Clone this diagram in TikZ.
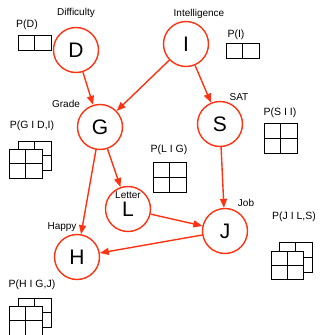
\documentclass[tikz,border=0pt]{standalone}
\usepackage{fontspec}
\setmainfont{Liberation Sans}
\usetikzlibrary{arrows.meta}
\definecolor{nred}{HTML}{FF3311}
\newcommand\cpdgrid[4]{%
  \draw[tab,fill=white] (#1,#2) rectangle (#3,#4);
  \draw[tab] ({(#1+#3)/2},#2) -- ({(#1+#3)/2},#4) (#1,{(#2+#4)/2}) -- (#3,{(#2+#4)/2});}
\begin{document}
\begin{tikzpicture}[x=1pt,y=-1pt,
  var/.style={circle,draw=nred,line width=1.4pt,minimum size=45pt,inner sep=0pt,font=\fontsize{21}{21}\selectfont},
  lbl/.style={font=\fontsize{10}{12}\selectfont,inner sep=0pt},
  plbl/.style={font=\fontsize{10.5}{12}\selectfont,inner sep=0pt},
  edge/.style={draw=nred,line width=1.4pt,-{Triangle[length=9pt,width=7pt]}},
  tab/.style={draw=black,line width=0.8pt}]
\useasboundingbox (0,0) rectangle (320,335);

% variables
\node[var] (D) at (76,50) {D};
\node[var] (I) at (186,44) {I};
\node[var] (G) at (100,127) {G};
\node[var] (S) at (220,124) {S};
\node[var] (L) at (128,209) {L};
\node[var] (J) at (225,231) {J};
\node[var] (H) at (77,257) {H};

% edges
\draw[edge] (D) -- (G);
\draw[edge] (I) -- (G);
\draw[edge] (I) -- (S);
\draw[edge] (G) -- (L);
\draw[edge] (G) -- (H);
\draw[edge] (L) -- (J);
\draw[edge] (S) -- (J);
\draw[edge] (J) -- (H);

% variable names
\node[lbl] (tD) at (76,13) {Difficulty};
\node[lbl] (tI) at (199,14) {Intelligence};
\node[lbl] (tG) at (66,104) {Grade};
\node[lbl] (tS) at (239,97) {SAT};
\node[lbl] (tL) at (128,195) {Letter};
\node[lbl] (tJ) at (246,203) {Job};
\node[lbl] (tH) at (62,227) {Happy};

% CPD labels
\node[plbl] (pD) at (27,25) {P(D)};
\node[plbl] (pI) at (236,35) {P(I)};
\node[plbl] (pS) at (280,113) {P(S I I)};
\node[plbl] (pG) at (32,126) {P(G I D,I)};
\node[plbl] (pL) at (169,150) {P(L I G)};
\node[plbl] (pJ) at (294,217) {P(J I L,S)};
\node[plbl] (pH) at (32,285) {P(H I G,J)};

% tables
\draw[tab] (18,35) rectangle (51,50);
\draw[tab] (34.5,35) -- (34.5,50);
\draw[tab] (226,43) rectangle (259,58);
\draw[tab] (242.5,43) -- (242.5,58);
\cpdgrid{264}{123}{297}{153}
\cpdgrid{153}{162}{186}{192}
\cpdgrid{18}{141}{51}{170}
\cpdgrid{9}{149}{42}{178}
\cpdgrid{279}{242}{312}{272}
\cpdgrid{271}{251}{303}{279}
\cpdgrid{18}{298}{51}{327}
\cpdgrid{9}{306}{42}{335}
\end{tikzpicture}
\end{document}
